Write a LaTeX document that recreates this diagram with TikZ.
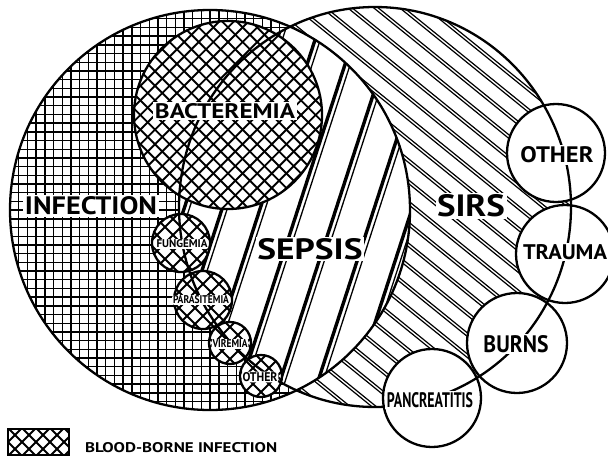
\documentclass[tikz,border=0pt]{standalone}
\usepackage{fontspec}
\setmainfont{PT Sans}
\usepackage{graphicx}
\newcommand{\fitlab}[3]{\resizebox{#1pt}{#2pt}{\bfseries #3}}
\begin{document}
\begin{tikzpicture}[x=1pt,y=-1pt,
  outl/.style={line width=2.3pt},
  gridl/.style={line width=1.4pt},
  hatchl/.style={line width=1.9pt},
  sirsl/.style={line width=1.2pt},
  lab/.style={fill=white,inner sep=1.5pt},
  slab/.style={fill=white,inner sep=0.8pt,rounded corners=2pt},
]
\useasboundingbox (0,0) rectangle (608,461);
\fill[white] (0,0) rectangle (608,461);

% SIRS hatch
\begin{scope}
  \clip (375,207) ellipse [x radius=196pt, y radius=200pt];
  \foreach \k in {-24,...,24} {
    \foreach \o in {0,4.5} {
      \draw[sirsl] (\k*26+\o,0) -- ++(569,461);
    }
  }
\end{scope}

% infection grid and sepsis stripes
\begin{scope}
  \clip (210,210) circle [radius=200pt];
  \fill[white] (0,0) rectangle (608,461);
  \foreach \i in {0,...,46} {
    \draw[gridl] (10+\i*8.7,0) -- (10+\i*8.7,461);
    \draw[gridl] (0,10+\i*8.7) -- (608,10+\i*8.7);
  }
  \clip (375,207) ellipse [x radius=196pt, y radius=200pt];
  \fill[white] (0,0) rectangle (608,461);
  \foreach \k in {-4,...,9} {
    \draw[line width=3.4pt] (178+38*\k, 461) -- ++(150,-461);
    \draw[line width=1.3pt] (183.2+38*\k, 461) -- ++(150,-461);
  }
\end{scope}

% bacteremia
\begin{scope}
  \clip (228,115) circle [radius=94pt];
  \fill[white] (0,0) rectangle (608,461);
  \foreach \k in {-10,...,10} {
    \draw[hatchl] (98+14.6*\k,-15) -- ++(260,260);
    \draw[hatchl] (98+14.6*\k,245) -- ++(260,-260);
  }
\end{scope}
\draw[outl] (228,115) circle [radius=94pt];

% small blood-borne circles
\foreach \cx/\cy/\rr in {181/243/29, 203/300/29, 230/343/21, 261/376/21} {
  \begin{scope}
    \clip (\cx,\cy) circle [radius=\rr pt];
    \fill[white] (\cx-40,\cy-40) rectangle (\cx+40,\cy+40);
    \foreach \k in {-5,...,5} {
      \draw[hatchl] (\cx+16*\k-45,\cy-45) -- ++(90,90);
      \draw[hatchl] (\cx+16*\k-45,\cy+45) -- ++(90,-90);
    }
  \end{scope}
  \draw[outl] (\cx,\cy) circle [radius=\rr pt];
}

% SIRS member circles
\foreach \cx/\cy/\rr in {556/153/49, 565/254/49, 517/343/50, 432/398/49} {
  \draw[outl, fill=white] (\cx,\cy) circle [radius=\rr pt];
}

% main outlines
\draw[outl] (210,210) circle [radius=200pt];
\draw[outl] (375,207) ellipse [x radius=196pt, y radius=200pt];

% labels
\node[lab] (bact) at (225,111) {\fitlab{140}{15}{BACTEREMIA}};
\node[lab] (infe) at (91,206) {\fitlab{132}{18}{INFECTION}};
\node[lab] (seps) at (310,249) {\fitlab{105}{21}{SEPSIS}};
\node[lab] (sirs) at (471,206) {\fitlab{68}{22}{SIRS}};
\node[lab] (oth) at (557,155) {\fitlab{73}{16}{OTHER}};
\node[lab] (trau) at (565,252) {\fitlab{84}{15}{TRAUMA}};
\node[lab] (burn) at (516,344) {\fitlab{65}{17}{BURNS}};
\node[lab] (panc) at (430,400) {\fitlab{86}{15}{PANCREATITIS}};
\node[slab] (fung) at (182,244) {\fitlab{51}{8}{FUNGEMIA}};
\node[slab] (para) at (201,300) {\fitlab{56}{8}{PARASITEMIA}};
\node[slab] (vire) at (230,344) {\fitlab{35}{8}{VIREMIA}};
\node[slab] (oths) at (260,377) {\fitlab{35}{9}{OTHER}};

% legend
\begin{scope}
  \clip (8,429) rectangle (69,455);
  \foreach \k in {-3,...,8} {
    \draw[hatchl] (8+14*\k-30,412) -- ++(60,60);
    \draw[hatchl] (8+14*\k-30,472) -- ++(60,-60);
  }
\end{scope}
\draw[line width=2pt] (8,429) rectangle (69,455);
\node[anchor=west,inner sep=0pt] (leg) at (85,448) {\fitlab{192}{10}{BLOOD-BORNE INFECTION}};
\end{tikzpicture}
\end{document}
